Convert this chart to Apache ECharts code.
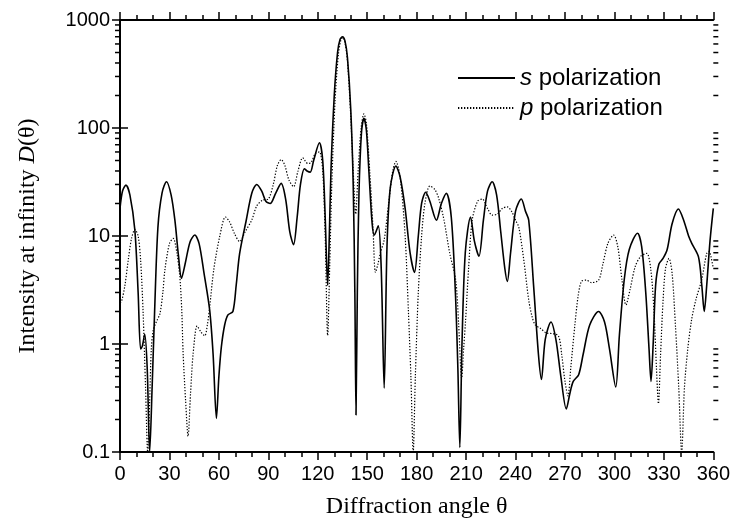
<!DOCTYPE html>
<html>
<head>
<meta charset="utf-8">
<script src="https://cdn.jsdelivr.net/npm/echarts@6/dist/echarts.min.js"></script>
<style>
html,body{margin:0;padding:0;background:#fff;}
#chart{width:733px;height:532px;}
</style>
</head>
<body>
<div id="chart"></div>
<script>
// ---- data ----
const xTicks = [0, 30, 60, 90, 120, 150, 180, 210, 240, 270, 300, 330, 360];
const yTicks = [0.1, 1, 10, 100, 1000];

const sTheta = [0, 1.5, 3.6, 6, 9, 11, 12.5, 13.5, 15, 16.5, 18, 19.5, 21, 23, 25.5, 28.2, 31, 33.3, 35.5, 37.3, 39.5, 42.5, 45.4, 48, 51, 54.4, 56.5, 58.5, 60, 61.5, 63.5, 65.5, 68.5, 70.5, 72.6, 76.6, 80, 83, 86, 88.5, 91.1, 94.5, 97.8, 100.5, 103, 105.3, 107.5, 109.5, 111.9, 113.5, 115.4, 117.5, 121, 123, 124.5, 126, 127, 128, 130, 132, 133.5, 135, 136.5, 138, 140, 141.5, 142.5, 143.2, 144, 145, 146.5, 148, 149.5, 151, 153, 154.3, 156.7, 158.5, 160.3, 162, 164, 167.4, 170, 173, 176, 178.7, 181, 183, 185.5, 188, 192, 195, 198, 201, 203.5, 205, 206.2, 207.5, 209.5, 212.7, 215, 217.8, 220.5, 223, 225.8, 228.5, 231, 233.5, 235, 237, 240, 243.5, 246, 248, 251, 253.9, 255.7, 258, 261.5, 264.5, 267.5, 270.8, 273, 275, 278.3, 281, 285, 290.4, 294, 297, 300.8, 303, 306, 309, 314, 316.5, 319, 321, 322.2, 323.5, 325, 327, 329.5, 332, 335, 338.8, 342, 345, 347, 351, 353, 354.5, 356, 358, 360];
const sValue = [18, 26, 29.6, 24, 11.4, 3, 0.9, 0.95, 1.23, 0.6, 0.1, 0.4, 2, 12, 25, 31.8, 24, 14, 6.5, 4.06, 5.5, 8.8, 10.2, 8.5, 4.5, 2.07, 0.8, 0.205, 0.5, 0.94, 1.5, 1.86, 2.0, 3.5, 6.9, 14, 25, 30, 26, 21, 20, 25, 30.7, 22, 11, 8.3, 15, 30, 42, 40, 39, 50, 73, 50, 15, 3.5, 10, 40, 200, 500, 660, 700, 640, 450, 150, 30, 3, 0.22, 3, 25, 90, 123, 95, 40, 13, 10.2, 12.4, 5, 0.39, 8, 28, 44.5, 35, 18, 7, 4.6, 10, 20, 25.4, 21, 14, 20, 24.8, 15, 3, 0.6, 0.11, 1.0, 7, 15, 9, 6.5, 14, 26, 31.8, 24, 11, 5, 3.8, 7, 17, 22, 17, 14, 3.4, 0.8, 0.47, 1.1, 1.6, 1.1, 0.5, 0.25, 0.35, 0.45, 0.52, 0.8, 1.5, 2.0, 1.6, 0.9, 0.4, 1.2, 4, 7.5, 10.6, 8, 3, 0.9, 0.45, 1, 3.5, 5.5, 6.2, 7.5, 13, 17.8, 14, 10, 8.5, 6.4, 3.5, 2.0, 3.5, 9, 18];

const pTheta = [0, 1, 3, 5, 7, 9.1, 11, 12.5, 14, 15.5, 16.8, 18, 19, 20.2, 22, 24.2, 26, 27.2, 30, 32.3, 34.5, 36.3, 37.5, 38.3, 39.8, 41.3, 42.8, 44.4, 46.8, 49, 51.4, 53, 54.4, 57, 60.5, 64, 66.5, 69.5, 72.6, 76, 79.9, 83, 86.5, 90, 93, 95.5, 97.8, 100, 102.5, 105.3, 108, 110.9, 113.9, 116, 118.5, 121, 123, 124.5, 126, 127.2, 128.5, 130.5, 132.5, 134, 135.2, 136.5, 138, 140, 141.5, 143, 144.5, 146.3, 148, 149.5, 151.5, 153.5, 155, 156.5, 158, 160.3, 163, 165.5, 167.4, 170, 173, 175, 176.5, 177.9, 179.2, 181, 183, 185, 188, 191, 193.5, 196.6, 200, 203.7, 205.5, 207.3, 208.5, 209.7, 211.5, 213.7, 217, 219.8, 223, 225.8, 229, 232, 235, 237.5, 240, 242, 245, 248, 250, 252, 255, 259, 262, 266, 268, 270, 271.8, 273.5, 276, 278, 280, 283, 286, 290.4, 293, 296, 299.5, 302, 304.5, 307, 309.5, 312.6, 316, 319.6, 322, 324, 325.5, 326.7, 328, 329.5, 331, 333.1, 335, 337, 339, 340.8, 342.5, 344.5, 346.8, 349.5, 352.9, 356, 357.5, 358.5, 360];
const pValue = [2.4, 2.5, 3.5, 6, 9.5, 11.5, 10, 6, 2, 0.4, 0.1, 0.3, 0.9, 1.35, 1.6, 1.9, 3, 4.8, 8.5, 9.5, 7, 4.2, 2, 0.82, 0.3, 0.14, 0.35, 0.82, 1.47, 1.3, 1.19, 1.5, 2.2, 5, 9.9, 15, 13.5, 10.5, 8.9, 11, 14, 19, 21.5, 22, 30, 45, 51, 45, 33, 28.6, 40, 53, 47, 48, 58, 60, 40, 10, 1.2, 5, 30, 180, 480, 650, 690, 620, 420, 130, 40, 16, 40, 100, 135, 110, 40, 12, 4.6, 5.5, 7, 9.2, 20, 40, 49, 35, 10, 2, 0.5, 0.1, 0.5, 3, 10, 20, 29, 27, 22, 14, 7, 3.9, 1.5, 0.48, 0.9, 1.67, 5, 14, 21, 22, 18, 15.6, 16, 18, 18.6, 17, 14, 12, 6, 2.55, 1.8, 1.5, 1.4, 1.26, 1.25, 1.19, 0.8, 0.45, 0.33, 0.6, 1.5, 2.8, 3.8, 3.9, 3.7, 3.9, 5.5, 8.5, 10.2, 8, 4, 2.3, 3.2, 5.2, 6.5, 6.9, 5, 2, 0.6, 0.28, 0.8, 2.5, 5, 6.2, 4.5, 1.5, 0.4, 0.1, 0.4, 0.9, 1.67, 2.6, 3.9, 6.9, 7.2, 6.5, 5];

// minor tick positions of the log axis (2..9 in each decade)
const yMinorTicks = [0.2,0.3,0.4,0.5,0.6,0.7,0.8,0.9, 2,3,4,5,6,7,8,9, 20,30,40,50,60,70,80,90, 200,300,400,500,600,700,800,900];

const sData = sTheta.map((t, i) => [t, sValue[i]]);
const pData = pTheta.map((t, i) => [t, pValue[i]]);

const chart = echarts.init(document.getElementById('chart'), null, {renderer: 'canvas'});
const axisLineStyle = {color: '#000', width: 2};
const sansFont = '"Liberation Sans", Arial, sans-serif';
const serifFont = '"Liberation Serif", "Times New Roman", serif';

const option = {
  backgroundColor: '#fff',
  animation: false,
  grid: {left: 120, right: 18, top: 20, bottom: 80, containLabel: false},
  legend: {
    data: ['s', 'p'],
    orient: 'vertical',
    left: 452,
    top: 59,
    itemWidth: 57,
    itemHeight: 14,
    itemGap: 2,
    itemStyle: {opacity: 0, borderWidth: 0},
    formatter: function (name) { return '{i|' + name + '} polarization'; },
    textStyle: {
      fontFamily: sansFont, fontSize: 24, color: '#000', lineHeight: 28,
      rich: {i: {fontStyle: 'italic', fontFamily: sansFont, fontSize: 24, color: '#000'}}
    }
  },
  xAxis: [{
    type: 'value', min: 0, max: 360, interval: 30, position: 'bottom',
    name: 'Diffraction angle θ', nameLocation: 'middle', nameGap: 43,
    nameTextStyle: {fontFamily: serifFont, fontSize: 24, color: '#000'},
    axisLine: {show: true, lineStyle: axisLineStyle},
    axisTick: {show: true, inside: false, length: 8, lineStyle: {color: '#000', width: 1.5}},
    minorTick: {show: true, splitNumber: 3, length: 5, lineStyle: {color: '#000', width: 1.5}},
    axisLabel: {fontFamily: sansFont, fontSize: 20, color: '#000', margin: 12,
      formatter: function (v) { return xTicks.indexOf(v) >= 0 ? String(v) : ''; }},
    splitLine: {show: false}
  }, {
    type: 'value', min: 0, max: 360, interval: 30, position: 'top',
    axisLine: {show: true, lineStyle: axisLineStyle},
    axisTick: {show: true, inside: false, length: 8, lineStyle: {color: '#000', width: 1.5}},
    minorTick: {show: true, splitNumber: 3, length: 5, lineStyle: {color: '#000', width: 1.5}},
    axisLabel: {show: false},
    splitLine: {show: false}
  }],
  yAxis: [{
    type: 'log', logBase: 10, min: 0.1, max: 1000, position: 'left',
    name: 'Intensity at infinity {it|D}(θ)', nameLocation: 'middle', nameGap: 80,
    nameTextStyle: {fontFamily: serifFont, fontSize: 24, color: '#000',
      rich: {it: {fontFamily: serifFont, fontStyle: 'italic', fontSize: 24, color: '#000'}}},
    axisLine: {show: true, lineStyle: axisLineStyle},
    axisTick: {show: true, inside: false, length: 8, lineStyle: {color: '#000', width: 1.5}},
    axisLabel: {fontFamily: sansFont, fontSize: 20, color: '#000', margin: 10,
      formatter: function (v) {
        const m = yTicks.find(t => Math.abs(t - v) / t < 1e-6);
        return m !== undefined ? String(m) : '';
      }},
    splitLine: {show: false}
  }, {
    type: 'log', logBase: 10, min: 0.1, max: 1000, position: 'right',
    axisLine: {show: true, lineStyle: axisLineStyle},
    axisTick: {show: true, inside: false, length: 8, lineStyle: {color: '#000', width: 1.5}},
    axisLabel: {show: false},
    splitLine: {show: false}
  }],
  series: [{
    name: 's', type: 'line', data: sData, xAxisIndex: 0, yAxisIndex: 0,
    showSymbol: false, symbol: 'none', smooth: 0.3, clip: true,
    lineStyle: {color: '#000', width: 1.6, type: 'solid'},
    itemStyle: {color: '#000'}
  }, {
    name: 'p', type: 'line', data: pData, xAxisIndex: 0, yAxisIndex: 0,
    showSymbol: false, symbol: 'none', smooth: 0.3, clip: true,
    lineStyle: {color: '#000', width: 1.2, type: [1.3, 1.7]},
    itemStyle: {color: '#000'}
  }, {
    name: 'minorTicks', type: 'custom', xAxisIndex: 0, yAxisIndex: 0,
    data: yMinorTicks.map(v => [0, v]), clip: false, silent: true,
    encode: {x: 0, y: 1},
    renderItem: function (params, api) {
      const y = api.coord([0, api.value(1)])[1];
      const cs = params.coordSys;
      const st = {stroke: '#000', lineWidth: 1.5};
      return {type: 'group', children: [
        {type: 'line', shape: {x1: cs.x, y1: y, x2: cs.x - 5, y2: y}, style: st},
        {type: 'line', shape: {x1: cs.x + cs.width, y1: y, x2: cs.x + cs.width + 5, y2: y}, style: st}
      ]};
    }
  }]
};
chart.setOption(option);
</script>
</body>
</html>
